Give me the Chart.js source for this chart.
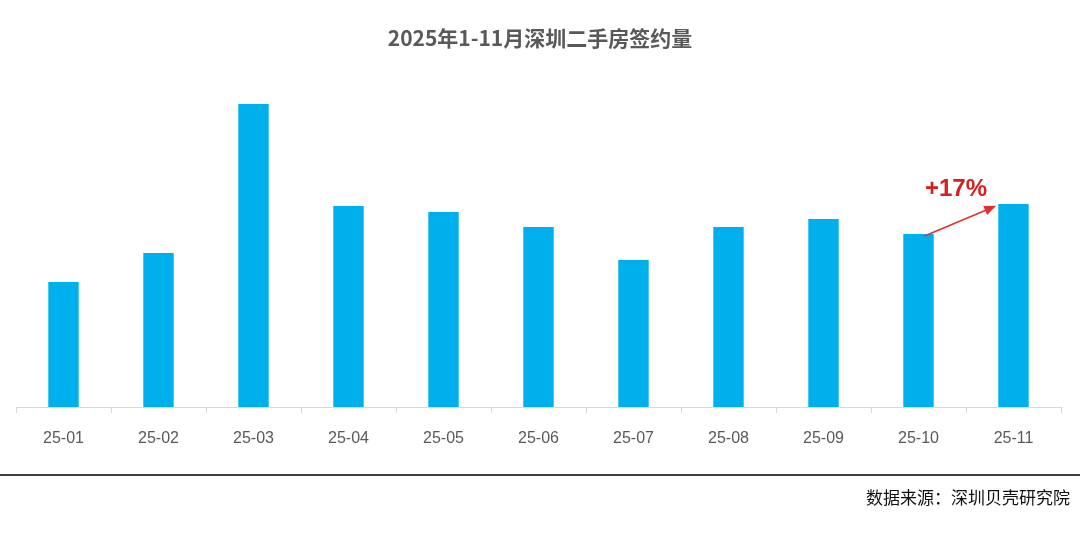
<!DOCTYPE html>
<html><head><meta charset="utf-8">
<script src="https://cdn.jsdelivr.net/npm/chart.js@4"></script>
<style>html,body{margin:0;padding:0;background:#fff}#w{width:1080px;height:544px}</style>
</head><body><div id="w"><canvas id="c"></canvas></div>
<script>
const categories = ["25-01","25-02","25-03","25-04","25-05","25-06","25-07","25-08","25-09","25-10","25-11"];
const values = [125,154,303,201,195,180,147,180,188,173,203];
const titleText = "2025年1-11月深圳二手房签约量";
const sourceText = "数据来源：深圳贝壳研究院";
const changeLabel = "+17%";
const deco = {
  id:'deco',
  afterDraw(chart){
    const ctx=chart.ctx, x=chart.scales.x, y=chart.scales.y;
    ctx.save();
    ctx.fillStyle='#595959';ctx.font='bold 21px "Noto Sans CJK SC"';ctx.textAlign='center';ctx.textBaseline='middle';
    ctx.fillText(titleText,540,38);
    ctx.strokeStyle='#000';ctx.lineWidth=1.5;ctx.beginPath();ctx.moveTo(0,475);ctx.lineTo(1080,475);ctx.stroke();
    ctx.fillStyle='#111';ctx.font='17px "Noto Sans CJK SC"';ctx.textAlign='right';ctx.fillText(sourceText,1070,498);
    const x0=x.getPixelForValue(9)+6, y0=y.getPixelForValue(values[9])+2;
    const x1=x.getPixelForValue(10)-20, y1=y.getPixelForValue(values[10])+3;
    ctx.strokeStyle='#e03030';ctx.fillStyle='#e03030';ctx.lineWidth=1.5;
    ctx.beginPath();ctx.moveTo(x0,y0);ctx.lineTo(x1,y1);ctx.stroke();
    const a=Math.atan2(y1-y0,x1-x0);
    ctx.beginPath();ctx.moveTo(x1+3*Math.cos(a),y1+3*Math.sin(a));
    ctx.lineTo(x1-9*Math.cos(a)+5*Math.sin(a),y1-9*Math.sin(a)-5*Math.cos(a));
    ctx.lineTo(x1-9*Math.cos(a)-5*Math.sin(a),y1-9*Math.sin(a)+5*Math.cos(a));ctx.fill();
    ctx.fillStyle='#d42020';ctx.font='bold 24px "Liberation Sans"';ctx.textAlign='center';
    ctx.fillText(changeLabel,(x.getPixelForValue(9)+x.getPixelForValue(10))/2-10,189);
    ctx.restore();
  }
};
new Chart(document.getElementById('c'),{
  type:'bar',
  data:{labels:categories,datasets:[{data:values,backgroundColor:'#00b0ec',categoryPercentage:1,barPercentage:0.32}]},
  options:{responsive:true,maintainAspectRatio:false,animation:false,
    layout:{padding:{top:77,bottom:87,left:16,right:19}},
    plugins:{legend:{display:false},tooltip:{enabled:false}},
    scales:{
      y:{display:false,min:0,max:330},
      x:{afterFit(s){s.height=50},grid:{offset:true,drawOnChartArea:false,tickLength:6,color:'#d9d9d9'},border:{color:'#d9d9d9'},
         ticks:{color:'#595959',font:{size:16,family:'"Liberation Sans"'},padding:16}}
    }},
  plugins:[deco]
});
</script></body></html>
